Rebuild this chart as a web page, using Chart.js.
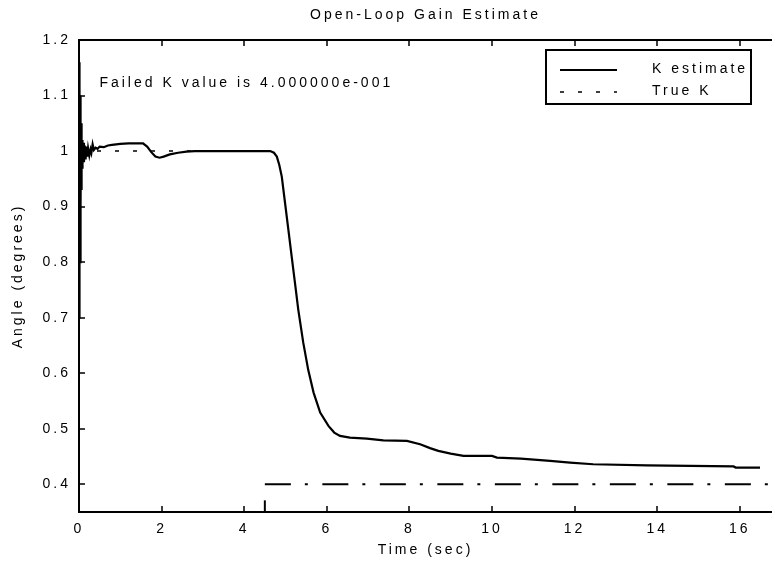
<!DOCTYPE html>
<html>
<head>
<meta charset="utf-8">
<title>Open-Loop Gain Estimate</title>
<script src="https://cdn.jsdelivr.net/npm/chart.js@4.4.1/dist/chart.umd.min.js"></script>
<style>
  html, body { margin: 0; padding: 0; background: #fff; }
</style>
</head>
<body>
<canvas id="gainChart" width="772" height="565"></canvas>
<script>
// K estimate (time in sec)
const kTime = [
  0, 0.004, 0.008, 0.012, 0.016, 0.02, 0.025, 0.03, 0.035, 0.04, 0.045, 0.05,
  0.055, 0.06, 0.065, 0.07, 0.075, 0.08, 0.09, 0.1, 0.12, 0.14, 0.16, 0.18,
  0.2, 0.22, 0.25, 0.28, 0.3, 0.33, 0.36, 0.4, 0.45, 0.5, 0.6, 0.7, 0.8, 0.9,
  1.0, 1.2, 1.4, 1.55, 1.65, 1.75, 1.85, 1.95, 2.05, 2.2, 2.4, 2.6, 2.8, 3.5,
  4.5, 4.63, 4.72, 4.79, 4.85, 4.91, 4.99, 5.07, 5.15, 5.23, 5.31, 5.43, 5.55,
  5.68, 5.84, 6.04, 6.18, 6.32, 6.56, 6.97, 7.37, 7.94, 8.26, 8.5, 8.7, 9.0,
  9.31, 10.0, 10.12, 10.7, 11.41, 11.89, 12.45, 13.75, 15.85, 15.9, 16.49
];
const kValue = [
  0.70, 1.16, 0.72, 1.15, 0.76, 1.12, 0.80, 1.10, 0.85, 1.07, 0.90, 1.05,
  0.93, 1.03, 0.95, 1.02, 0.97, 1.02, 0.975, 1.015, 0.98, 1.01, 0.985, 1.008,
  0.99, 1.005, 0.992, 1.003, 0.997, 1.012, 1.002, 1.006, 1.004, 1.008, 1.007, 1.01, 1.011, 1.012,
  1.013, 1.014, 1.014, 1.014, 1.008, 0.998, 0.99, 0.988, 0.99, 0.994, 0.997, 0.999, 1.0, 1.0,
  1.0, 1.0, 0.997, 0.99, 0.975, 0.954, 0.906, 0.858, 0.81, 0.762, 0.714, 0.655, 0.606,
  0.565, 0.529, 0.505, 0.493, 0.487, 0.484, 0.482, 0.479, 0.478, 0.472, 0.465, 0.46, 0.455,
  0.451, 0.451, 0.448, 0.446, 0.442, 0.439, 0.436, 0.434, 0.432, 0.430, 0.430
];

// True K: 1 before the failure, 0.4 after it
const trueTimeBefore = [0, 4.5];
const trueValueBefore = [1, 1];
const trueTimeAfter = [4.5, 16.68];
const trueValueAfter = [0.4, 0.4];
// small mark at the failure time
const failTime = [4.5, 4.5];
const failValue = [0.35, 0.371];

const xTicks = [0, 2, 4, 6, 8, 10, 12, 14, 16];
const xTickLabels = ["0", "2", "4", "6", "8", "10", "12", "14", "16"];
const yTicks = [0.4, 0.5, 0.6, 0.7, 0.8, 0.9, 1.0, 1.1, 1.2];
const yTickLabels = ["0.4", "0.5", "0.6", "0.7", "0.8", "0.9", "1", "1.1", "1.2"];

const toPoints = (xs, ys) => xs.map((t, i) => ({ x: t, y: ys[i] }));

const FONT = '14px "Liberation Sans", Arial, sans-serif';
const SPACING = "3px";

Chart.defaults.font.family = '"Liberation Sans", Arial, sans-serif';
Chart.defaults.font.size = 14;
Chart.defaults.color = "#000";

// matlab-ish frame: inward ticks, top border, title, labels, legend box
const matlabLook = {
  id: "matlabLook",
  beforeDraw: (chart) => {
    chart.ctx.letterSpacing = SPACING;
  },
  afterDraw: (chart) => {
    const { ctx, chartArea: a, scales } = chart;
    const x = scales.x;
    const y = scales.y;
    ctx.save();
    ctx.letterSpacing = SPACING;
    ctx.strokeStyle = "#000";
    ctx.fillStyle = "#000";

    // top border
    ctx.lineWidth = 2;
    ctx.beginPath();
    ctx.moveTo(a.left - 1, a.top);
    ctx.lineTo(a.right, a.top);
    ctx.stroke();

    // inward ticks
    ctx.lineWidth = 1.5;
    ctx.beginPath();
    xTicks.forEach((v) => {
      const px = Math.round(x.getPixelForValue(v));
      ctx.moveTo(px, a.bottom);
      ctx.lineTo(px, a.bottom - 6);
      ctx.moveTo(px, a.top);
      ctx.lineTo(px, a.top + 6);
    });
    yTicks.forEach((v) => {
      const py = Math.round(y.getPixelForValue(v));
      ctx.moveTo(a.left, py);
      ctx.lineTo(a.left + 6, py);
    });
    ctx.stroke();

    ctx.font = FONT;
    const cx = (a.left + a.right) / 2;

    // title
    ctx.textAlign = "center";
    ctx.textBaseline = "middle";
    ctx.fillText("Open-Loop Gain Estimate", cx, 15);

    // x axis title
    ctx.fillText("Time (sec)", cx, 550);

    // y axis title
    ctx.save();
    ctx.translate(18, (a.top + a.bottom) / 2);
    ctx.rotate(-Math.PI / 2);
    ctx.fillText("Angle (degrees)", 0, 0);
    ctx.restore();

    // note inside the plot
    ctx.textAlign = "left";
    ctx.textBaseline = "alphabetic";
    ctx.fillText(
      "Failed K value is 4.000000e-001",
      x.getPixelForValue(0.494),
      y.getPixelForValue(1.116)
    );

    // legend box
    const bx = a.right - 226;
    const by = 50;
    const bw = 205;
    const bh = 54;
    ctx.fillStyle = "#fff";
    ctx.fillRect(bx, by, bw, bh);
    ctx.fillStyle = "#000";
    ctx.lineWidth = 2;
    ctx.strokeRect(bx, by, bw, bh);

    const ds = chart.data.datasets;
    const rows = [ds[0], ds[1]];
    rows.forEach((d, i) => {
      const ly = by + 20 + i * 22;
      ctx.save();
      ctx.lineWidth = d.borderWidth;
      ctx.setLineDash(d.borderDash || []);
      ctx.beginPath();
      ctx.moveTo(bx + 14, ly);
      ctx.lineTo(bx + 71, ly);
      ctx.stroke();
      ctx.restore();
      ctx.fillText(d.label, bx + 106, ly + 3);
    });

    ctx.restore();
  },
};

new Chart(document.getElementById("gainChart"), {
  type: "line",
  data: {
    datasets: [
      {
        label: "K estimate",
        data: toPoints(kTime, kValue),
        borderColor: "#000",
        borderWidth: 2.2,
        pointRadius: 0,
        tension: 0,
      },
      {
        label: "True K",
        data: toPoints(trueTimeBefore, trueValueBefore),
        borderColor: "#000",
        borderWidth: 1.5,
        borderDash: [4, 14],
        pointRadius: 0,
      },
      {
        label: "True K (after failure)",
        data: toPoints(trueTimeAfter, trueValueAfter),
        borderColor: "#000",
        borderWidth: 2,
        borderDash: [26, 14, 3, 14.5],
        pointRadius: 0,
      },
      {
        label: "failure mark",
        data: toPoints(failTime, failValue),
        borderColor: "#000",
        borderWidth: 2,
        pointRadius: 0,
      },
    ],
  },
  options: {
    responsive: false,
    animation: false,
    layout: {
      padding: { top: 40, left: 0, right: 0, bottom: 0 },
    },
    plugins: {
      legend: { display: false },
      tooltip: { enabled: false },
      title: { display: false },
    },
    scales: {
      x: {
        type: "linear",
        min: 0,
        max: 16.78,
        afterFit: (scale) => {
          scale.height = 53;
        },
        afterBuildTicks: (scale) => {
          scale.ticks = xTicks.map((v) => ({ value: v }));
        },
        grid: { display: false, drawTicks: false },
        border: { display: true, color: "#000", width: 2 },
        ticks: {
          padding: 9,
          maxRotation: 0,
          font: { size: 14 },
          callback: (v, i) => xTickLabels[i],
        },
      },
      y: {
        type: "linear",
        min: 0.35,
        max: 1.2,
        afterFit: (scale) => {
          scale.width = 79;
        },
        afterBuildTicks: (scale) => {
          scale.ticks = yTicks.map((v) => ({ value: v }));
        },
        grid: { display: false, drawTicks: false },
        border: { display: true, color: "#000", width: 2 },
        ticks: {
          padding: 8,
          font: { size: 14 },
          callback: (v, i) => yTickLabels[i],
        },
      },
    },
  },
  plugins: [matlabLook],
});
</script>
</body>
</html>
